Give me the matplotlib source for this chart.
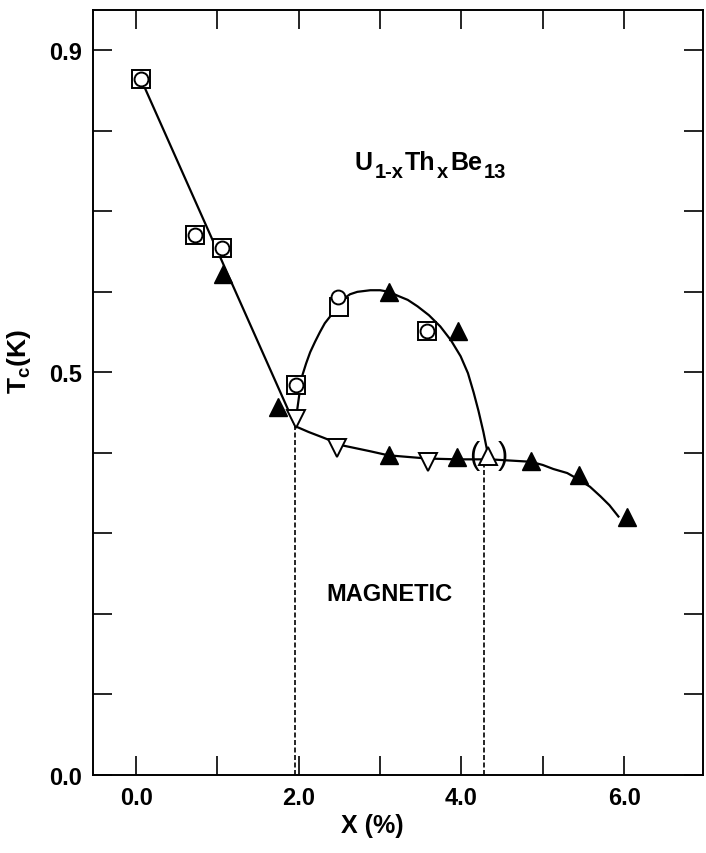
import numpy as np
import matplotlib
matplotlib.use("Agg")
import matplotlib.pyplot as plt

plt.rcParams['font.family'] = ['Liberation Sans', 'DejaVu Sans']
plt.rcParams['mathtext.fontset'] = 'custom'
plt.rcParams['mathtext.rm'] = 'Liberation Sans:bold'
plt.rcParams['mathtext.bf'] = 'Liberation Sans:bold'
plt.rcParams['mathtext.it'] = 'Liberation Sans:bold'

# --- measured transition temperatures (Tc in K vs Th content x in %) ---
sq_x = [0.06, 0.73, 1.05, 1.97, 2.50, 3.58]
sq_tc = [0.864, 0.671, 0.654, 0.484, 0.581, 0.551]
circ_x = [0.06, 0.73, 1.05, 1.97, 2.48, 3.58]
circ_tc = [0.864, 0.671, 0.654, 0.484, 0.593, 0.551]
tri_x = [1.07, 1.75, 3.11, 3.96, 3.11, 3.95, 4.85, 5.44, 6.04]
tri_tc = [0.622, 0.457, 0.600, 0.551, 0.398, 0.395, 0.390, 0.373, 0.321]
down_x = [1.97, 2.47, 3.59]
down_tc = [0.442, 0.406, 0.389]
up_x = [4.33]
up_tc = [0.396]

# --- guide-to-the-eye phase boundaries ---
upper_x = [0.06, 1.96]
upper_tc = [0.864, 0.433]
dome_x = [1.96, 1.98, 2.01, 2.04, 2.09, 2.14, 2.20, 2.26, 2.32, 2.39, 2.45,
          2.50, 2.56, 2.63, 2.72, 2.80, 2.88, 3.00, 3.11, 3.22, 3.34, 3.46,
          3.60, 3.74, 3.87, 3.99, 4.08, 4.15, 4.21, 4.27, 4.32]
dome_tc = [0.433, 0.453, 0.475, 0.495, 0.511, 0.525, 0.538, 0.550, 0.561,
           0.570, 0.578, 0.585, 0.592, 0.597, 0.600, 0.601, 0.602, 0.602,
           0.600, 0.595, 0.590, 0.582, 0.571, 0.557, 0.540, 0.520, 0.499,
           0.475, 0.452, 0.426, 0.401]
lower_x = [1.96, 2.12, 2.30, 2.55, 2.88, 3.10, 3.58, 3.95, 4.35, 4.85, 5.00,
           5.13, 5.30, 5.44, 5.58, 5.71, 5.82, 5.93]
lower_tc = [0.433, 0.426, 0.419, 0.409, 0.402, 0.397, 0.393, 0.392, 0.392,
            0.389, 0.385, 0.380, 0.375, 0.367, 0.358, 0.346, 0.335, 0.321]
boundary_x = [1.95, 4.28]
boundary_tc = [0.433, 0.392]

xticks = [0, 1, 2, 3, 4, 5, 6]
xticklabels = ['0.0', '', '2.0', '', '4.0', '', '6.0']
yticks = [0.0, 0.1, 0.2, 0.3, 0.4, 0.5, 0.6, 0.7, 0.8, 0.9]
yticklabels = ['0.0', '', '', '', '', '0.5', '', '', '', '0.9']

fig = plt.figure(figsize=(7.06, 8.54), dpi=100)
ax = fig.add_axes([93 / 706, 78 / 854, 610 / 706, 765 / 854])
ax.set_xlim(-0.53, 6.97)
ax.set_ylim(0.0, 0.95)

ink = 'black'
ax.plot(upper_x, upper_tc, color=ink, lw=1.6, zorder=2)
ax.plot(dome_x, dome_tc, color=ink, lw=1.6, zorder=2, solid_joinstyle='round')
ax.plot(lower_x, lower_tc, color=ink, lw=1.6, zorder=2, solid_joinstyle='round')
for bx, bt in zip(boundary_x, boundary_tc):
    ax.plot([bx, bx], [0.0, bt], color=ink, lw=1.2, ls=(0, (3.0, 1.5)), zorder=1)

ax.plot(sq_x, sq_tc, ls='none', marker='s', ms=12.5, mfc='white', mec=ink,
        mew=1.4, zorder=3)
ax.plot(circ_x, circ_tc, ls='none', marker='o', ms=10, mfc='white', mec=ink,
        mew=1.4, zorder=4)
ax.plot(tri_x, tri_tc, ls='none', marker='^', ms=12.5, mfc=ink, mec=ink,
        mew=1.0, zorder=3)
ax.plot(down_x, down_tc, ls='none', marker='v', ms=13, mfc='white', mec=ink,
        mew=1.4, zorder=3)
ax.plot(up_x, up_tc, ls='none', marker='^', ms=13, mfc='white', mec=ink,
        mew=1.4, zorder=3)

# parentheses around the uncertain point
for ux, ut in zip(up_x, up_tc):
    ax.annotate('(', xy=(ux, ut), xytext=(-14, 1), textcoords='offset pixels',
                ha='center', va='center', fontsize=22, zorder=5)
    ax.annotate(')', xy=(ux, ut), xytext=(15, 1), textcoords='offset pixels',
                ha='center', va='center', fontsize=22, zorder=5)

# compound formula, built piece by piece so subscripts stay large
big, small = 18, 14.5
t0 = ax.text(2.69, 0.752, 'U', fontsize=big, fontweight='bold', va='baseline')
t1 = ax.annotate('1-x', xy=(1, 0), xycoords=(t0, t0), xytext=(1.0, -5),
                 textcoords='offset points', fontsize=small, fontweight='bold',
                 va='bottom')
t2 = ax.annotate('Th', xy=(1, 0), xycoords=(t1, t0), xytext=(1.0, 0),
                 textcoords='offset points', fontsize=big, fontweight='bold',
                 va='bottom')
t3 = ax.annotate('x', xy=(1, 0), xycoords=(t2, t2), xytext=(1.0, -5),
                 textcoords='offset points', fontsize=small, fontweight='bold',
                 va='bottom')
t4 = ax.annotate('Be', xy=(1, 0), xycoords=(t3, t2), xytext=(2.0, 0),
                 textcoords='offset points', fontsize=big, fontweight='bold',
                 va='bottom')
t5 = ax.annotate('13', xy=(1, 0), xycoords=(t4, t4), xytext=(1.0, -5),
                 textcoords='offset points', fontsize=small, fontweight='bold',
                 va='bottom')

ax.text(3.12, 0.226, 'MAGNETIC', fontsize=17, fontweight='bold',
        ha='center', va='center')

ax.set_xticks(xticks)
ax.set_xticklabels(xticklabels)
ax.set_yticks(yticks)
ax.set_yticklabels(yticklabels)
ax.tick_params(which='both', direction='in', length=14, width=1.2,
               top=True, right=True, labelsize=17, pad=8)
for lab in ax.get_xticklabels() + ax.get_yticklabels():
    lab.set_fontweight('bold')
for sp in ax.spines.values():
    sp.set_linewidth(1.4)

fig.text(19 / 706, 1 - 362 / 854, r'$\mathbf{T_c(K)}$', rotation=90,
         fontsize=19, ha='center', va='center')
fig.text(372 / 706, 1 - 826 / 854, 'X (%)', fontsize=18, fontweight='bold',
         ha='center', va='center')

fig.savefig('out.png', dpi=100)
